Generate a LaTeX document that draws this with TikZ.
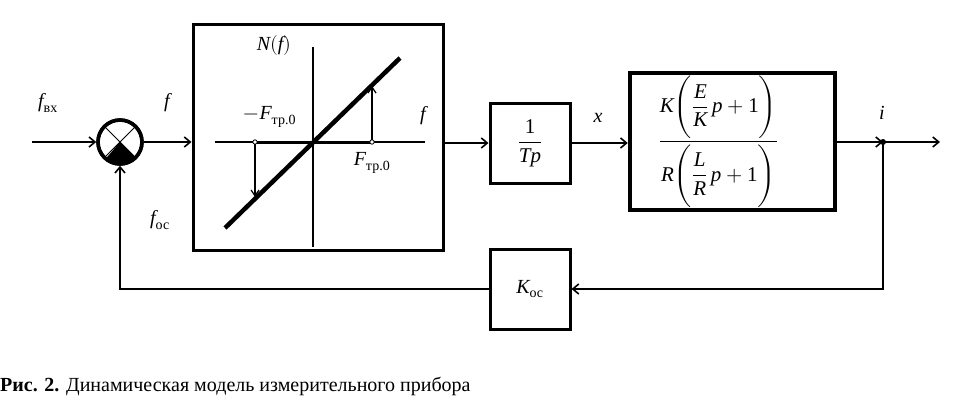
\documentclass[tikz,border=0pt]{standalone}
\usepackage{amsmath}
\usepackage{fontspec}
\usepackage{unicode-math}
\setmainfont{Liberation Serif}
\setmathfont{Latin Modern Math}
\setmathfont[range={it/{Latin,latin}}]{Liberation Serif Italic}
\setmathfont[range={up/num}]{Liberation Serif}
\usetikzlibrary{arrows.meta, positioning}

\begin{document}
\begin{tikzpicture}[
    x=1pt, y=-1pt,
    every node/.style={font=\fontsize{20}{24}\selectfont},
    block/.style={rectangle, draw, line width=3pt, minimum width=80pt, minimum height=80pt, inner sep=0pt},
    bigblock/.style={rectangle, draw, line width=4.5pt, minimum width=205pt, minimum height=137pt, inner sep=0pt},
    sumnode/.style={circle, draw, line width=3.5pt, minimum size=44pt, inner sep=0pt},
    lbl/.style={inner sep=1pt},
    arrow/.style={-{Straight Barb[length=6pt, width=10pt, line width=1.6pt]}, line width=2.6pt},
    axis/.style={line width=1.3pt},
    thinarrow/.style={-{Straight Barb[length=6pt, width=8pt, line width=1.2pt]}, line width=1.3pt}
]
    \useasboundingbox (0,0) rectangle (953,404);

    % Nodes
    \coordinate (in) at (32,142);
    \node[sumnode] (sum) at (120,142) {};
    \node[block, minimum width=250pt, minimum height=225pt] (nl) at (318,137.5) {};
    \node[block, font=\fontsize{21}{25}\selectfont] (integ) at (530,143) {$\displaystyle\frac{1}{Tp}$};
    \node[bigblock, font=\fontsize{21}{25}\selectfont] (plant) at (732.5,141.5)
        {$\displaystyle\frac{K\Bigg(\dfrac{E}{K}\,p+1\Bigg)}{R\Bigg(\dfrac{L}{R}\,p+1\Bigg)}$\hspace*{28pt}};
    \coordinate (junc) at (883,142);
    \coordinate (out) at (940,142);
    \node[block] (kos) at (530,289) {$K_{\text{ос}}$};

    % Summing junction
    \fill (sum.center) -- (sum.-45) arc[start angle=-45, end angle=-135, radius=22pt] -- cycle;
    \draw[line width=0.8pt] (sum.45) -- (sum.-135) (sum.135) -- (sum.-45);
    \draw[line width=3.5pt] (sum) circle[radius=22pt];

    % Characteristic inside the nonlinear block
    \coordinate (o) at (313,142);
    \draw[axis] (313,47) -- (313,247);
    \draw[axis] (215,142) -- (425,142);
    \draw[line width=3pt] (255,142) -- (372,142);
    \draw[line width=4.5pt] (225,228) -- (400,58);
    \draw[thinarrow] (372,142) -- (372,86);
    \draw[thinarrow] (255,142) -- (255,197);
    \draw[line width=0.8pt, fill=white] (255,142) circle[radius=2.2pt] (372,142) circle[radius=2.2pt];

    % Labels
    \node[lbl] (lfin) at (48,103) {$f_{\text{вх}}$};
    \node[lbl] (lf) at (167,103) {$f$};
    \node[lbl] (lfos) at (160,220) {$f_{\text{ос}}$};
    \node[lbl] (lnf) at (274,46) {$N(f)$};
    \node[lbl] (lmf) at (270,117) {$-F_{\text{тр.0}}$};
    \node[lbl] (laxf) at (423,116) {$f$};
    \node[lbl] (lpf) at (372,163) {$F_{\text{тр.0}}$};
    \node[lbl] (lx) at (598,118) {$x$};
    \node[lbl] (li) at (882,113) {$i$};

    % Arrows
    \draw[arrow] (in) -- (sum.west);
    \draw[arrow] (sum.east) -- (nl.west |- sum.east);
    \draw[arrow] (nl.east |- integ.west) -- (integ.west);
    \draw[arrow] (integ.east) -- (plant.west |- integ.east);
    \draw[arrow] (plant.east |- junc) -- (junc);
    \draw[arrow] (junc) -- (out);
    \draw[arrow] (junc) |- (kos.east);
    \draw[arrow] (kos.west) -| (sum.south);
    \fill (junc) circle[radius=3pt];

    % Caption
    \node[anchor=base west, inner sep=0pt, font=\fontsize{20}{24}\selectfont] (cap) at (0,391)
        {\textbf{Рис. 2.} Динамическая модель измерительного прибора};
\end{tikzpicture}
\end{document}
